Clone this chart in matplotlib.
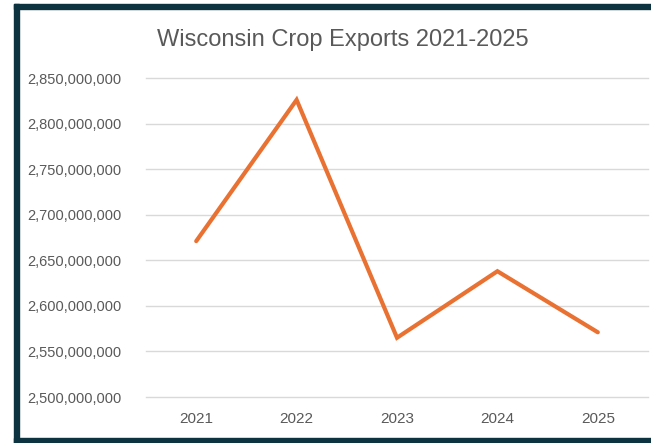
import matplotlib
matplotlib.use("Agg")
import matplotlib.pyplot as plt
from matplotlib.patches import Rectangle
from matplotlib.ticker import FuncFormatter

years = ["2021", "2022", "2023", "2024", "2025"]
exports = [2_671_000_000, 2_826_000_000, 2_565_000_000, 2_638_000_000, 2_571_000_000]
y_ticks = [2_500_000_000, 2_550_000_000, 2_600_000_000, 2_650_000_000,
           2_700_000_000, 2_750_000_000, 2_800_000_000, 2_850_000_000]

W, H = 651, 443
plt.rcParams["font.family"] = ["Liberation Sans", "DejaVu Sans"]

fig = plt.figure(figsize=(W / 100, H / 100), dpi=100)
fig.patch.set_facecolor("white")

# dark frame on left, top and bottom
frame = "#0e3340"
for x0, y0, w, h in [(14, 4, W - 14, 5), (14, 4, 5, H - 4), (14, 438, W - 14, 5)]:
    fig.patches.append(Rectangle((x0 / W, 1 - (y0 + h) / H), w / W, h / H,
                                 transform=fig.transFigure, color=frame, zorder=0))

ax = fig.add_axes([146 / W, 1 - 397 / H, (648 - 146) / W, (397 - 78) / H])
ax.plot(range(len(years)), exports, color="#E97132", linewidth=3,
        solid_capstyle="round", solid_joinstyle="miter", zorder=3)

ax.set_xlim(-0.5, len(years) - 0.5)
ax.set_ylim(y_ticks[0], y_ticks[-1])
ax.set_xticks(range(len(years)))
ax.set_xticklabels(years)
ax.set_yticks(y_ticks)
ax.yaxis.set_major_formatter(FuncFormatter(lambda v, _: f"{v:,.0f}"))
ax.grid(axis="y", color="#d9d9d9", linewidth=1)
for gl in ax.get_ygridlines():
    gl.set_clip_on(False)
ax.set_axisbelow(True)
for s in ax.spines.values():
    s.set_visible(False)
ax.tick_params(length=0, colors="#595959")
ax.tick_params(axis="y", labelsize=10.5, pad=18)
ax.tick_params(axis="x", labelsize=11, pad=11)

fig.text(343 / W, 1 - 40 / H, "Wisconsin Crop Exports 2021-2025",
         ha="center", va="center", fontsize=17, color="#595959")

fig.savefig("out.png", dpi=100)
